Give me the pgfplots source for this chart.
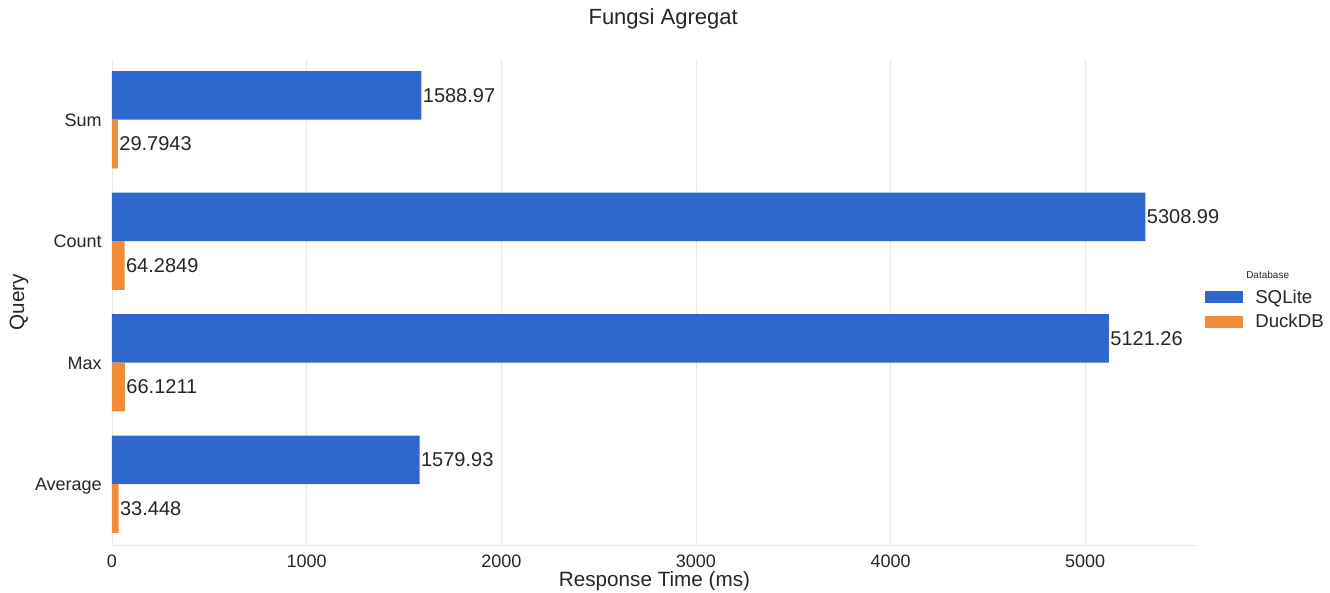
\documentclass[border=0pt]{standalone}
\usepackage{fontspec}
\setmainfont{Liberation Sans}
\usepackage{pgfplots}
\pgfplotsset{compat=1.18}

\definecolor{sqlite}{RGB}{48,103,206}
\definecolor{duckdb}{RGB}{242,140,56}
\definecolor{gridc}{RGB}{232,232,232}
\definecolor{txt}{RGB}{38,38,38}

% Response times (ms); y: Average=0, Max=1, Count=2, Sum=3
\pgfplotstableread{
q  t        lab
3  1588.97  1588.97
2  5308.99  5308.99
1  5121.26  5121.26
0  1579.93  1579.93
}\sqlitedata
\pgfplotstableread{
q  t        lab
3  29.7943  29.7943
2  64.2849  64.2849
1  66.1211  66.1211
0  33.448   33.448
}\duckdbdata

\begin{document}
\begin{tikzpicture}
\begin{axis}[
  scale only axis,
  width=813.75pt, height=364.5pt,
  xmin=0, xmax=5574.4,
  ymin=-0.5, ymax=3.5,
  xbar, bar width=0.4,
  clip=false,
  ytick={0,1,2,3},
  yticklabels={Average,Max,Count,Sum},
  xtick={0,1000,...,5000},
  xmajorgrids,
  grid style={gridc, line width=0.6pt},
  axis x line*=bottom, axis y line*=left,
  axis line style={gridc, line width=0.6pt, -},
  major tick length=0pt,
  tick style={draw=none},
  /pgf/number format/assume math mode=true,
  /pgf/number format/1000 sep={},
  tick label style={font=\fontsize{13.5}{16}\selectfont, text=txt},
  xticklabel style={anchor=base, inner sep=0pt, yshift=-17pt},
  yticklabel style={anchor=base east, inner sep=0pt, xshift=-7.5pt, yshift=-4.8pt},
  xlabel={Response Time (ms)},
  ylabel={Query},
  label style={font=\fontsize{15.5}{18}\selectfont, text=txt},
  xlabel style={at={(axis description cs:0.5,-0.0864)}, anchor=base, inner sep=0pt},
  ylabel style={at={(axis description cs:-0.0811,0.5)}, anchor=base, inner sep=0pt},
  nodes near coords,
  point meta=explicit symbolic,
  every node near coord/.append style={font=\fontsize{15}{18}\selectfont, text=txt, anchor=west, inner xsep=1pt},
  legend image code/.code={\fill[#1] (0pt,-4.5pt) rectangle (28pt,4.5pt);},
  legend cell align=left,
  legend style={draw=none, fill=none, at={(1,0.5)}, anchor=west,
    xshift=6pt, yshift=-5.6pt, inner sep=0pt,
    font=\fontsize{14}{16}\selectfont, text=txt,
    row sep=2.5pt,
    /tikz/every odd column/.append style={column sep=7.5pt}},
]
\addplot[fill=sqlite, draw=none, bar shift=0.2] table[x=t, y=q, meta=lab] {\sqlitedata};
\addlegendentry{SQLite}
\addplot[fill=duckdb, draw=none, bar shift=-0.2] table[x=t, y=q, meta=lab] {\duckdbdata};
\addlegendentry{DuckDB}

\node[font=\fontsize{16.5}{20}\selectfont, text=txt, anchor=base]
  at (rel axis cs:0.5,1) [xshift=6.5pt, yshift=25.5pt] {Fungsi Agregat};
\node[font=\fontsize{7.5}{9}\selectfont, text=txt]
  at (rel axis cs:1,0.5) [xshift=53pt, yshift=20.25pt] {Database};

\coordinate (sw) at (rel axis cs:0,0);
\coordinate (ne) at (rel axis cs:1,1);
\end{axis}
\pgfresetboundingbox
\path ([xshift=-84pt, yshift=-36pt]sw) rectangle ([xshift=99.75pt, yshift=44.25pt]ne);
\end{tikzpicture}
\end{document}
